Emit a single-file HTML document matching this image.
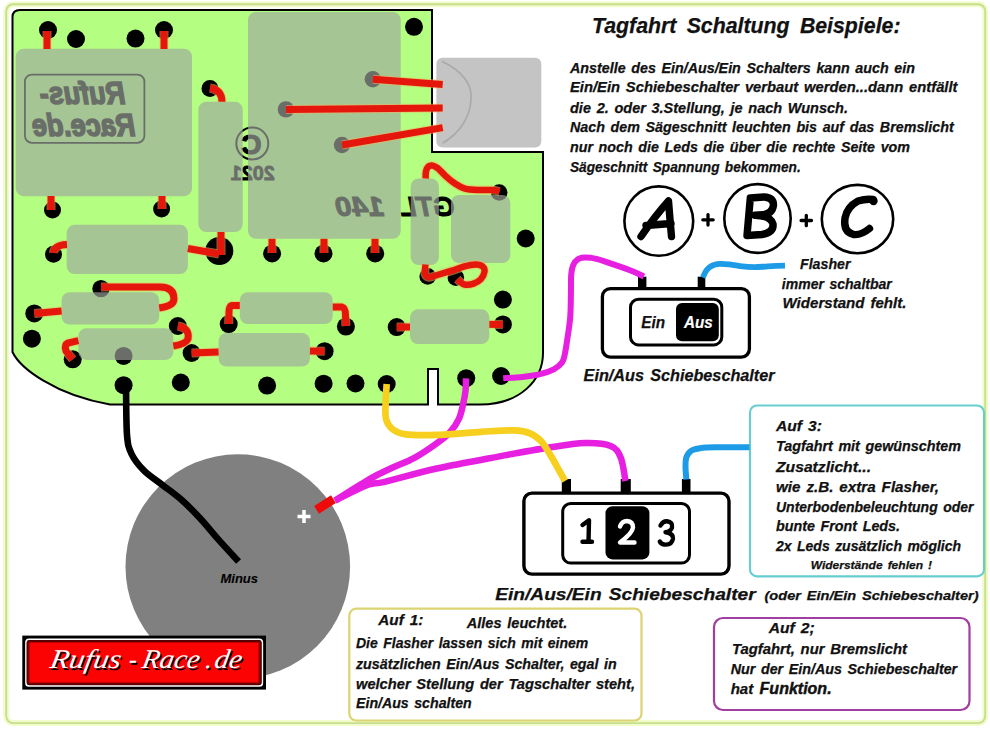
<!DOCTYPE html>
<html><head><meta charset="utf-8">
<style>
html,body{margin:0;padding:0;background:#fff;}
body{width:990px;height:731px;overflow:hidden;position:relative;}
svg{position:absolute;left:0;top:0;}
text{font-family:"Liberation Sans",sans-serif;}
.ser text{font-family:"Liberation Serif",serif;font-style:italic;font-size:27px;}
.t{font-weight:bold;font-style:italic;font-size:14px;fill:#111;word-spacing:1.6px;stroke:#111;stroke-width:0.25px;}
</style></head>
<body>
<svg width="990" height="731" viewBox="0 0 990 731">
<!-- page border -->
<rect x="6.2" y="4.2" width="979" height="718.9" rx="7" ry="7" fill="#fff" stroke="#f1fbcc" stroke-width="6"/>
<rect x="6.2" y="4.2" width="979" height="718.9" rx="7" ry="7" fill="none" stroke="#c7de8c" stroke-width="1.9"/>

<!-- PCB board -->
<path id="pcb" d="M20,10 L432,10 L432,152 L543,152 L543,353 C543,380 520,404.5 480,404.5 L438,404.5 L438,369 L428,369 L428,404.5 L110,404.5 C55,395 20,368 12.5,352 L12.5,17 Q12.5,10 20,10 Z" fill="#b4fe82" stroke="#000" stroke-width="2"/>

<!-- mirrored texts (under components) -->
<g fill="#000" stroke="#000" stroke-width="0" font-family="Liberation Sans" font-weight="bold" font-style="italic">
  <rect x="24.9" y="74.6" width="119.5" height="68.2" rx="7" fill="none" stroke="#000" stroke-width="1.8"/>
  <g transform="translate(250,0) scale(-1,1)">
    <text x="124.7" y="103.5" font-size="31" stroke-width="1.6" textLength="85.5" lengthAdjust="spacingAndGlyphs">Rufus-</text>
    <text x="114.8" y="135.7" font-size="31" stroke-width="1.6" textLength="103.2" lengthAdjust="spacingAndGlyphs">Race.de</text>
  </g>
  <circle cx="252.3" cy="143.4" r="16" fill="none" stroke="#000" stroke-width="2"/>
  <g transform="translate(504.6,0) scale(-1,1)">
    <text x="243" y="154" font-size="28" font-style="normal" stroke-width="1.2">C</text>
  </g>
  <g transform="translate(505.5,0) scale(-1,1)">
    <text x="230.7" y="180.3" font-size="21" font-style="normal" stroke-width="0.8" textLength="44" lengthAdjust="spacingAndGlyphs">2021</text>
  </g>
  <g transform="translate(788.4,0) scale(-1,1)">
    <text x="333.6" y="216" font-size="28" stroke-width="1" textLength="55" lengthAdjust="spacingAndGlyphs">GTL</text>
    <text x="404" y="216" font-size="28" stroke-width="1" textLength="49" lengthAdjust="spacingAndGlyphs">140</text>
  </g>
</g>

<!-- pads -->
<g fill="#000">
  <circle cx="48" cy="30" r="9"/>
  <circle cx="76" cy="39" r="9"/>
  <circle cx="135.5" cy="38.6" r="9"/>
  <circle cx="164" cy="30" r="9"/>
  <circle cx="210" cy="88.4" r="8.5"/>
  <circle cx="414" cy="26.8" r="9"/>
  <circle cx="372.8" cy="79.3" r="8.2"/>
  <circle cx="285.9" cy="109.4" r="8.2"/>
  <circle cx="342" cy="145" r="8.2"/>
  <circle cx="52.5" cy="209.9" r="8.5"/>
  <circle cx="161.6" cy="208.9" r="8.5"/>
  <circle cx="53.5" cy="254.3" r="8.5"/>
  <circle cx="219.3" cy="251" r="14"/>
  <circle cx="272.1" cy="253.5" r="9"/>
  <circle cx="323.5" cy="253.5" r="9"/>
  <circle cx="375.2" cy="253.5" r="9"/>
  <circle cx="499.2" cy="192.5" r="8.3"/>
  <circle cx="525.7" cy="238.5" r="9"/>
  <circle cx="427.7" cy="276.4" r="8.3"/>
  <circle cx="455.9" cy="277.7" r="8.3"/>
  <circle cx="101" cy="288.6" r="8.7"/>
  <circle cx="34.3" cy="313.4" r="9"/>
  <circle cx="31.9" cy="338.7" r="9"/>
  <circle cx="72.7" cy="359.3" r="9"/>
  <circle cx="123.6" cy="355.9" r="9"/>
  <circle cx="177.8" cy="326" r="9"/>
  <circle cx="191.6" cy="353" r="9"/>
  <circle cx="123.6" cy="385.2" r="9"/>
  <circle cx="180.8" cy="382.5" r="9"/>
  <circle cx="228.7" cy="324.1" r="9"/>
  <circle cx="345.9" cy="326.6" r="9"/>
  <circle cx="324.6" cy="351.2" r="9"/>
  <circle cx="267.1" cy="385.6" r="9"/>
  <circle cx="323.6" cy="383.7" r="9"/>
  <circle cx="355.5" cy="383.5" r="9"/>
  <circle cx="386.7" cy="384" r="9"/>
  <circle cx="396.7" cy="327.1" r="9"/>
  <circle cx="502.9" cy="324.4" r="9"/>
  <circle cx="502.9" cy="299.6" r="9"/>
  <circle cx="466.2" cy="378.2" r="9"/>
  <circle cx="501.1" cy="376" r="9"/>
</g>

<!-- components (translucent) -->
<g fill="rgba(159,167,158,0.66)">
  <rect x="15.7" y="48.7" width="176.3" height="147.5" rx="8"/>
  <rect x="198.4" y="101.7" width="44.3" height="130.3" rx="8"/>
  <rect x="248" y="12" width="152.7" height="226.8" rx="8"/>
  <rect x="66.7" y="224.8" width="121.2" height="49.2" rx="8"/>
  <rect x="410.7" y="178.4" width="28.2" height="86.6" rx="8"/>
  <rect x="451" y="195" width="59.3" height="68" rx="8"/>
  <rect x="61.6" y="292.2" width="97.6" height="32.3" rx="8"/>
  <rect x="78.4" y="328.2" width="94.9" height="31.7" rx="8"/>
  <rect x="239.8" y="292.2" width="92.9" height="31.9" rx="8"/>
  <rect x="218.6" y="333" width="91.3" height="33.6" rx="8"/>
  <rect x="410" y="309.3" width="79.3" height="34.7" rx="8"/>
</g>

<!-- connector -->
<rect x="436.4" y="57.8" width="104.9" height="89.8" rx="6" fill="#c4c4c4"/>
<path d="M441.8,61.3 C470,75 472,90 471,100 C470,115 462,132 442.7,143" fill="none" stroke="#a9a9a9" stroke-width="1.6"/>

<!-- red wires -->
<g fill="none" stroke="#f5b060" stroke-opacity="0.55" stroke-width="9" stroke-linecap="butt">
  <path d="M47,31 L47,49"/>
  <path d="M164,31 L164,49"/>
  <path d="M210,88 Q222,90 222,101.7"/>
  <path d="M372.8,79.3 L442.7,84.4"/>
  <path d="M285.9,109.4 L442.7,108"/>
  <path d="M342,145 L442.7,127.6"/>
  <path d="M51,196 L51,210"/>
  <path d="M162,196 L162,209"/>
  <path d="M53.5,253 Q54,245 67,244.5"/>
  <path d="M187.9,248.5 L219,254"/>
  <path d="M221,232 L221,255"/>
  <path d="M272,238.8 L272,253"/>
  <path d="M324,238.8 L324,253"/>
  <path d="M375,238.8 L375,253"/>
  <path d="M425.6,178.5 C425.7,177.3 425.5,173.3 426.0,171.3 C426.5,169.3 427.3,167.4 428.4,166.5 C429.5,165.6 431.2,165.3 432.8,165.6 C434.4,165.9 435.9,166.7 438.0,168.4 C440.1,170.2 442.8,173.5 445.7,176.1 C448.6,178.7 452.1,181.7 455.3,183.8 C458.5,185.9 461.2,187.6 464.9,188.6 C468.6,189.6 472.9,189.8 477.4,190.0 C481.9,190.2 488.1,189.8 491.8,190.0 C495.5,190.2 498.2,191.2 499.5,191.5"/>
  <path d="M425.5,264.5 C425.4,266.0 424.4,271.5 425.0,273.6 C425.6,275.7 427.1,277.1 429.1,277.3 C431.2,277.5 433.7,276.1 437.3,275.0 C440.9,273.9 446.4,272.3 450.9,270.9 C455.4,269.5 460.4,267.5 464.5,266.4 C468.6,265.3 472.5,264.5 475.5,264.5 C478.5,264.5 481.2,265.2 482.7,266.4 C484.2,267.6 484.8,269.7 484.5,271.8 C484.2,273.9 482.7,277.1 480.9,279.1 C479.1,281.1 476.3,282.7 473.6,283.6 C470.9,284.5 466.9,284.9 464.5,284.5 C462.1,284.1 460.3,281.8 459.1,280.9 C457.9,280.0 457.6,279.3 457.3,279.0"/>
  <path d="M101,287 L160,287 Q174,287 174,299 Q174,306 159.2,308"/>
  <path d="M34.3,313.4 L61.6,311"/>
  <path d="M78.4,340.7 L68,343 Q64,345 66,351 L72.7,359.3"/>
  <path d="M177.8,326 Q190,328 188,339 Q186,344 173.3,346"/>
  <path d="M191.6,353 L218.6,352"/>
  <path d="M239.8,305.4 L232,305.4 Q229,306 229,312 L228.7,324"/>
  <path d="M332.7,307 L342,307 Q345.5,308 345.5,315 L345.9,326"/>
  <path d="M309.9,351 L324.6,351.2"/>
  <path d="M396.7,327.1 L410,327"/>
  <path d="M489.3,324.4 L502.9,324.4"/>
</g>
<g fill="none" stroke="#e5170d" stroke-width="7" stroke-linecap="butt">
  <path d="M47,31 L47,49"/>
  <path d="M164,31 L164,49"/>
  <path d="M210,88 Q222,90 222,101.7"/>
  <path d="M372.8,79.3 L442.7,84.4"/>
  <path d="M285.9,109.4 L442.7,108"/>
  <path d="M342,145 L442.7,127.6"/>
  <path d="M51,196 L51,210"/>
  <path d="M162,196 L162,209"/>
  <path d="M53.5,253 Q54,245 67,244.5"/>
  <path d="M187.9,248.5 L219,254"/>
  <path d="M221,232 L221,255"/>
  <path d="M272,238.8 L272,253"/>
  <path d="M324,238.8 L324,253"/>
  <path d="M375,238.8 L375,253"/>
  <path d="M425.6,178.5 C425.7,177.3 425.5,173.3 426.0,171.3 C426.5,169.3 427.3,167.4 428.4,166.5 C429.5,165.6 431.2,165.3 432.8,165.6 C434.4,165.9 435.9,166.7 438.0,168.4 C440.1,170.2 442.8,173.5 445.7,176.1 C448.6,178.7 452.1,181.7 455.3,183.8 C458.5,185.9 461.2,187.6 464.9,188.6 C468.6,189.6 472.9,189.8 477.4,190.0 C481.9,190.2 488.1,189.8 491.8,190.0 C495.5,190.2 498.2,191.2 499.5,191.5" stroke-width="6.5"/>
  <path d="M425.5,264.5 C425.4,266.0 424.4,271.5 425.0,273.6 C425.6,275.7 427.1,277.1 429.1,277.3 C431.2,277.5 433.7,276.1 437.3,275.0 C440.9,273.9 446.4,272.3 450.9,270.9 C455.4,269.5 460.4,267.5 464.5,266.4 C468.6,265.3 472.5,264.5 475.5,264.5 C478.5,264.5 481.2,265.2 482.7,266.4 C484.2,267.6 484.8,269.7 484.5,271.8 C484.2,273.9 482.7,277.1 480.9,279.1 C479.1,281.1 476.3,282.7 473.6,283.6 C470.9,284.5 466.9,284.9 464.5,284.5 C462.1,284.1 460.3,281.8 459.1,280.9 C457.9,280.0 457.6,279.3 457.3,279.0" stroke-width="6.4"/>
  <path d="M101,287 L160,287 Q174,287 174,299 Q174,306 159.2,308"/>
  <path d="M34.3,313.4 L61.6,311"/>
  <path d="M78.4,340.7 L68,343 Q64,345 66,351 L72.7,359.3"/>
  <path d="M177.8,326 Q190,328 188,339 Q186,344 173.3,346"/>
  <path d="M191.6,353 L218.6,352"/>
  <path d="M239.8,305.4 L232,305.4 Q229,306 229,312 L228.7,324"/>
  <path d="M332.7,307 L342,307 Q345.5,308 345.5,315 L345.9,326"/>
  <path d="M309.9,351 L324.6,351.2"/>
  <path d="M396.7,327.1 L410,327"/>
  <path d="M489.3,324.4 L502.9,324.4"/>
</g>

<!-- ===== right side ===== -->
<g class="t">
<text x="592" y="32.5" font-size="22" word-spacing="4.5" textLength="308.5" lengthAdjust="spacingAndGlyphs">Tagfahrt Schaltung Beispiele:</text>
<text x="570" y="72.7" textLength="345" lengthAdjust="spacingAndGlyphs">Anstelle des Ein/Aus/Ein Schalters kann auch ein</text>
<text x="570" y="92.2" textLength="387.5" lengthAdjust="spacingAndGlyphs">Ein/Ein Schiebeschalter verbaut werden...dann entfällt</text>
<text x="570" y="112.5" textLength="278" lengthAdjust="spacingAndGlyphs">die 2. oder 3.Stellung, je nach Wunsch.</text>
<text x="570" y="132.1" textLength="383.7" lengthAdjust="spacingAndGlyphs">Nach dem Sägeschnitt leuchten bis auf das Bremslicht</text>
<text x="570" y="151.7" textLength="340" lengthAdjust="spacingAndGlyphs">nur noch die Leds die über die rechte Seite vom</text>
<text x="570" y="171.8" textLength="230.7" lengthAdjust="spacingAndGlyphs">Sägeschnitt Spannung bekommen.</text>
</g>

<!-- ABC circles -->
<g fill="none" stroke="#000" stroke-width="2.6">
  <ellipse cx="658.8" cy="221.1" rx="34.4" ry="34.7"/>
  <ellipse cx="757.5" cy="218.5" rx="33.2" ry="34.4"/>
  <ellipse cx="857.5" cy="219.1" rx="35.7" ry="34.2"/>
</g>
<g fill="none" stroke="#000" stroke-width="7.4" stroke-linecap="round" stroke-linejoin="round">
  <path d="M641,236.5 Q655,216 668.5,201 Q670,220 671.5,236.5 M646,225.5 L671,223.5"/>
  <path d="M750.3,198 L747,235.5 M750.3,198 L764,197 Q773.5,197.5 773.5,205 Q772.5,213.5 763,214.8 L755,215.3 Q771,216 773,224 Q774,232.5 762,234.5 L747,235.5"/>
  <path d="M873,199.5 Q866,198.5 858,201 Q847,207 845,218 Q843,232 853.5,234.5 Q861,235.5 869.5,228.5"/>
</g>
<circle cx="873.5" cy="201" r="4.2" fill="#000"/>
<path d="M708,214.6 L708,225 M702.8,219.8 L713.2,219.8 M806.3,215.3 L806.3,225.7 M801.1,220.5 L811.5,220.5" stroke="#000" stroke-width="3.3" stroke-linecap="round" fill="none"/>
  

<!-- Ein/Aus switch -->
<rect x="602.4" y="288.6" width="147" height="68.5" rx="8" fill="#fff" stroke="#000" stroke-width="3.3"/>
<rect x="630.5" y="299.3" width="91.3" height="45.6" rx="8" fill="#fff" stroke="#000" stroke-width="3"/>
<rect x="676" y="303" width="42.8" height="38.3" rx="6" fill="#000"/>
<rect x="638" y="276.7" width="8.4" height="11" fill="#000"/>
<rect x="697.7" y="276.7" width="7.6" height="11" fill="#000"/>
<g class="t" font-size="16">
<text x="641.3" y="327.5" font-size="16" textLength="23.7" lengthAdjust="spacingAndGlyphs">Ein</text>
<text x="684" y="327.5" font-size="16" fill="#fff" style="fill:#fff;stroke:#fff;stroke-width:0.2px" textLength="28.7" lengthAdjust="spacingAndGlyphs">Aus</text>
<text x="583.6" y="381" font-size="16" textLength="191" lengthAdjust="spacingAndGlyphs">Ein/Aus Schiebeschalter</text>
<text x="800" y="269" textLength="50.5" lengthAdjust="spacingAndGlyphs">Flasher</text>
<text x="781.8" y="288.5" textLength="110" lengthAdjust="spacingAndGlyphs">immer schaltbar</text>
<text x="782.5" y="308" textLength="124" lengthAdjust="spacingAndGlyphs">Widerstand fehlt.</text>
</g>

<!-- 1 2 3 switch -->
<rect x="523.9" y="493.1" width="205.1" height="81" rx="8" fill="#fff" stroke="#000" stroke-width="3.4"/>
<rect x="562.7" y="503.5" width="126.8" height="59.6" rx="8" fill="#fff" stroke="#000" stroke-width="3"/>
<rect x="605.5" y="506.3" width="43.9" height="53.1" rx="7" fill="#000"/>
<rect x="561.8" y="479" width="9.2" height="13" fill="#000"/>
<rect x="620.7" y="479" width="10.1" height="13" fill="#000"/>
<rect x="681.9" y="479" width="8.6" height="13" fill="#000"/>
<g fill="none" stroke-width="4.4" stroke-linecap="round" stroke-linejoin="round">
  <path d="M582.5,525 L589,520.2 L588.5,541.8 M582.5,541.8 L592,541.8" stroke="#000"/>
  <path d="M620,526.5 Q622,521 627,521 Q633,521.5 633,527.5 Q632.5,533 620,542.5 L634.5,542.5" stroke="#fff"/>
  <path d="M660.5,525.5 Q663,521 667,521.2 Q673,522 672,527.5 Q671,531.5 665.5,532.3 Q673.5,533.5 673,538.5 Q672,545 665,544.6 Q661,544.2 659.8,541.5" stroke="#000"/>
</g>
<g class="t">
<text x="495.2" y="599.7" font-size="17" textLength="260.5" lengthAdjust="spacingAndGlyphs">Ein/Aus/Ein Schiebeschalter</text>
<text x="764.5" y="599.8" font-size="13" textLength="214" lengthAdjust="spacingAndGlyphs">(oder Ein/Ein Schiebeschalter)</text>
</g>

<!-- Auf 3 box -->
<rect x="750" y="405.5" width="234" height="170.9" rx="7" fill="#fff" stroke="#66cdd0" stroke-width="2.1"/>
<g class="t">
<text x="776" y="431" textLength="46" lengthAdjust="spacingAndGlyphs">Auf 3:</text>
<text x="776" y="451" textLength="185" lengthAdjust="spacingAndGlyphs">Tagfahrt mit gewünschtem</text>
<text x="776" y="471.5" textLength="95" lengthAdjust="spacingAndGlyphs">Zusatzlicht...</text>
<text x="776" y="491.5" textLength="163" lengthAdjust="spacingAndGlyphs">wie z.B. extra Flasher,</text>
<text x="776" y="511.5" textLength="197.5" lengthAdjust="spacingAndGlyphs">Unterbodenbeleuchtung oder</text>
<text x="776" y="531" textLength="124" lengthAdjust="spacingAndGlyphs">bunte Front Leds.</text>
<text x="776" y="551" textLength="185" lengthAdjust="spacingAndGlyphs">2x Leds zusätzlich möglich</text>
<text x="810.7" y="569" font-size="11.5" textLength="121.3" lengthAdjust="spacingAndGlyphs">Widerstände fehlen !</text>
</g>

<!-- Auf 2 box -->
<rect x="714" y="618" width="255.5" height="92" rx="9" fill="#fff" stroke="#a03fa0" stroke-width="2.2"/>
<g class="t">
<text x="768.7" y="633.3" textLength="46" lengthAdjust="spacingAndGlyphs">Auf 2;</text>
<text x="731.9" y="653.5" textLength="175" lengthAdjust="spacingAndGlyphs">Tagfahrt, nur Bremslicht</text>
<text x="730.7" y="673.7" textLength="226.5" lengthAdjust="spacingAndGlyphs">Nur der Ein/Aus Schiebeschalter</text>
<text x="730.7" y="694" textLength="22.5" lengthAdjust="spacingAndGlyphs">hat</text>
<text x="759.6" y="694.3" font-size="16.5" style="font-size:16.5px;stroke-width:0.45px" textLength="72" lengthAdjust="spacingAndGlyphs">Funktion.</text>
</g>

<!-- Auf 1 box -->
<rect x="349.3" y="608.7" width="292.2" height="111.8" rx="7" fill="#fff" stroke="#dcd372" stroke-width="2.2"/>
<g class="t">
<text x="378.3" y="625" textLength="45" lengthAdjust="spacingAndGlyphs">Auf 1:</text>
<text x="466.7" y="628.3" textLength="100.6" lengthAdjust="spacingAndGlyphs">Alles leuchtet.</text>
<text x="356" y="648.3" textLength="232.3" lengthAdjust="spacingAndGlyphs">Die Flasher lassen sich mit einem</text>
<text x="356" y="669" textLength="260.7" lengthAdjust="spacingAndGlyphs">zusätzlichen Ein/Aus Schalter, egal in</text>
<text x="356" y="689.3" textLength="279" lengthAdjust="spacingAndGlyphs">welcher Stellung der Tagschalter steht,</text>
<text x="356" y="708.3" textLength="115.7" lengthAdjust="spacingAndGlyphs">Ein/Aus schalten</text>
</g>

<!-- gray circle (battery) -->
<circle cx="237.8" cy="566.6" r="112.3" fill="#808080"/>
<text x="220.4" y="582.6" font-size="12.5" class="t" style="font-weight:bold;font-size:12px;stroke:#000;stroke-width:0.1px;fill:#000" textLength="37.7" lengthAdjust="spacingAndGlyphs">Minus</text>
<path d="M304,510 L304,523 M297.5,516.5 L310.5,516.5" stroke="#fff" stroke-width="3.5" fill="none"/>

<!-- black wire -->
<path d="M126.0,385.5 C126.2,393.7 126.1,423.3 127.0,434.7 C127.9,446.1 128.7,447.9 131.5,453.8 C134.3,459.7 138.6,465.1 143.8,470.3 C149.0,475.6 156.5,480.3 162.9,485.3 C169.3,490.3 175.6,494.6 182.0,500.3 C188.4,506.0 195.3,513.1 201.2,519.5 C207.1,525.9 211.4,531.6 217.6,538.6 C223.8,545.6 235.1,557.7 238.6,561.5" fill="none" stroke="#000" stroke-width="6.6"/>

<!-- colored wires -->
<g fill="none" stroke-width="6.5" stroke-linecap="butt" stroke-linejoin="round">
  <path d="M466.0,378.4 C465.9,380.3 466.1,385.9 465.6,390.0 C465.2,394.1 464.4,398.5 463.3,403.3 C462.2,408.1 461.1,414.1 458.9,418.9 C456.7,423.7 453.7,428.1 450.0,432.2 C446.3,436.3 442.6,439.0 436.7,443.3 C430.8,447.6 421.8,453.7 414.4,457.8 C407.0,461.9 399.6,464.3 392.2,467.8 C384.8,471.3 379.5,473.4 370.0,478.9 C360.5,484.4 340.8,497.0 335.0,500.6" stroke="#e61fe0"/>
  <path d="M335.0,500.6 C340.5,498.0 359.7,487.9 368.0,484.8 C376.3,481.7 373.4,484.5 384.8,481.8 C396.2,479.1 416.9,472.9 436.7,468.5 C456.4,464.1 484.8,459.1 503.3,455.6 C521.8,452.2 534.2,449.9 547.8,447.8 C561.4,445.7 574.3,443.4 584.8,443.1 C595.3,442.8 604.7,443.6 610.7,446.0 C616.7,448.4 618.2,451.7 620.7,457.5 C623.2,463.3 624.7,477.1 625.5,481.0" stroke="#e61fe0"/>
  <path d="M503.2,378.2 C506.4,378.0 516.2,377.6 522.4,376.9 C528.5,376.2 534.9,375.4 540.1,374.1 C545.3,372.8 550.1,371.2 553.8,369.3 C557.4,367.4 560.2,365.0 562.0,362.5 C563.8,360.0 563.9,358.4 564.8,354.3 C565.7,350.2 566.6,344.0 567.5,337.9 C568.4,331.8 569.6,324.5 570.2,317.4 C570.8,310.2 570.7,302.0 570.9,295.0 C571.1,288.0 570.8,280.3 571.2,275.3 C571.6,270.3 572.0,267.9 573.2,265.2 C574.4,262.5 576.2,260.4 578.2,259.1 C580.2,257.8 582.1,257.6 585.3,257.6 C588.5,257.6 592.3,257.8 597.4,259.1 C602.5,260.4 609.5,263.1 615.6,265.2 C621.7,267.3 629.1,269.9 633.8,271.8 C638.5,273.7 642.2,275.7 643.9,276.5" stroke="#e61fe0" stroke-width="6"/>
  <path d="M386.7,384.0 C386.5,387.2 385.7,397.5 385.6,403.3 C385.5,409.1 384.9,414.6 386.0,418.9 C387.1,423.2 388.9,426.3 392.2,428.9 C395.5,431.5 398.2,433.4 405.6,434.4 C413.0,435.4 424.1,435.3 436.7,434.9 C449.3,434.5 468.2,432.6 481.1,431.8 C494.1,431.1 506.2,430.1 514.4,430.4 C522.5,430.6 525.5,431.5 530.0,433.3 C534.5,435.1 537.8,437.6 541.1,441.1 C544.4,444.6 547.0,449.6 550.0,454.4 C553.0,459.2 556.4,465.6 558.9,470.0 C561.4,474.4 564.0,479.2 565.0,481.0" stroke="#f6cf1f" stroke-width="6.7"/>
  <path d="M702.8,277.5 C703.4,276.2 705.1,272.0 706.7,270.0 C708.3,268.0 710.2,266.6 712.2,265.6 C714.2,264.6 716.1,264.1 718.9,263.9 C721.7,263.7 725.4,264.0 728.9,264.4 C732.4,264.8 735.8,265.6 740.0,266.1 C744.2,266.6 749.8,267.1 754.4,267.2 C759.0,267.2 762.7,266.7 767.8,266.4 C772.9,266.1 782.1,265.7 785.0,265.6" stroke="#1e9be6" stroke-width="5.8"/>
  <path d="M686.4,479.5 C686.2,477.3 685.5,470.1 685.5,466.4 C685.5,462.7 685.5,459.9 686.4,457.3 C687.3,454.7 688.6,452.4 690.9,450.9 C693.2,449.4 695.9,448.8 700.0,448.2 C704.1,447.6 707.2,447.4 715.5,447.3 C723.8,447.2 743.8,447.3 749.5,447.3" stroke="#1e9be6" stroke-width="6"/>
</g>
<!-- red terminal -->
<rect x="-10" y="-4.5" width="20" height="9" fill="#ee0a0a" transform="translate(325,504.5) rotate(-32.4)"/>

<!-- logo -->
<rect x="22.3" y="635.6" width="243.7" height="54" fill="#000"/>
<rect x="26" y="639.3" width="236.3" height="46.6" rx="3" fill="none" stroke="#fff" stroke-width="1.7"/>
<rect x="27.6" y="641" width="233" height="43.2" rx="2" fill="#c00000" stroke="#5a0000" stroke-width="2"/>
<rect x="30" y="643" width="228" height="39" rx="1" fill="#fb0303"/>
<g class="ser" transform="translate(0,668.5) skewX(-10) translate(0,-668.5)">
<g fill="#000" transform="translate(1.6,1.8)">
<text x="48.9" y="668.5" textLength="71" lengthAdjust="spacingAndGlyphs">Rufus</text>
<text x="127.8" y="668.5" textLength="8" lengthAdjust="spacingAndGlyphs">-</text>
<text x="140.9" y="668.5" textLength="57.6" lengthAdjust="spacingAndGlyphs">Race</text>
<text x="204.8" y="668.5">.</text>
<text x="213.6" y="668.5" textLength="27.3" lengthAdjust="spacingAndGlyphs">de</text>
</g>
<g fill="#fff">
<text x="48.9" y="668.5" textLength="71" lengthAdjust="spacingAndGlyphs">Rufus</text>
<text x="127.8" y="668.5" textLength="8" lengthAdjust="spacingAndGlyphs">-</text>
<text x="140.9" y="668.5" textLength="57.6" lengthAdjust="spacingAndGlyphs">Race</text>
<text x="204.8" y="668.5">.</text>
<text x="213.6" y="668.5" textLength="27.3" lengthAdjust="spacingAndGlyphs">de</text>
</g>
</g>
</svg>
</body></html>
